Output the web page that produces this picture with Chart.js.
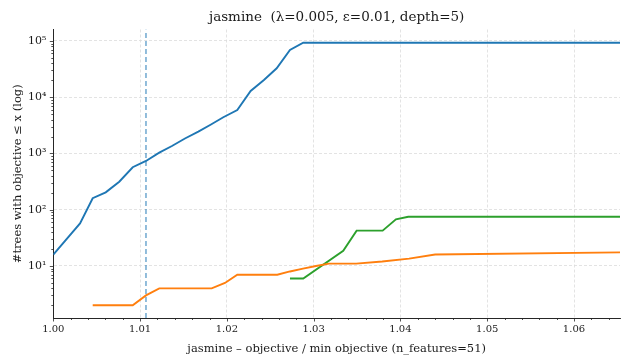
<!DOCTYPE html>
<html>
<head>
<meta charset="utf-8">
<script src="https://cdn.jsdelivr.net/npm/chart.js@4.4.1/dist/chart.umd.min.js"></script>
<style>
  html, body { margin: 0; padding: 0; background: #fff; }
  #wrap { width: 624px; height: 360px; }
</style>
</head>
<body>
<div id="wrap"><canvas id="c" width="624" height="360"></canvas></div>
<script>
// Objective ratio (objective / min objective) at each step of the curves
const blueX = [1.0000, 1.00308, 1.00454, 1.00604, 1.00760, 1.00915, 1.01068, 1.01221, 1.01367, 1.01517,
               1.01671, 1.01817, 1.01959, 1.02120, 1.02274, 1.02427, 1.02574, 1.02727, 1.02880, 1.0660];
const blueY = [16, 57, 160, 204, 315, 569, 736, 1033, 1359, 1848,
               2444, 3281, 4406, 5930, 12900, 20300, 32700, 69200, 93300, 93300];

const orangeX = [1.00454, 1.00915, 1.01068, 1.01221, 1.01825, 1.01978, 1.02120, 1.02581, 1.02727, 1.02877,
                 1.03027, 1.03176, 1.03490, 1.03790, 1.04100, 1.04400, 1.0660];
const orangeY = [2, 2, 3, 4, 4, 5, 7, 7, 8, 9, 10, 11, 11, 12, 13.5, 16, 17.5];

const greenX = [1.02727, 1.02880, 1.03341, 1.03495, 1.03795, 1.03948, 1.04090, 1.0660];
const greenY = [6, 6, 18.7, 42.5, 42.5, 67.6, 75.2, 75.2];

// Reference objective threshold
const thresholdX = 1.01068;

// Axis ranges and tick labels
const xMin = 1.0, xMax = 1.0653;
const yMin = 1.19, yMax = 1.6e5;
const xTickLabels = ['1.00', '1.01', '1.02', '1.03', '1.04', '1.05', '1.06'];
const yTickLabels = ['10⁰', '10¹', '10²', '10³', '10⁴', '10⁵'];

const titleText = 'jasmine  (λ=0.005, ε=0.01, depth=5)';
const xLabelText = 'jasmine – objective / min objective (n_features=51)';
const yLabelText = '#trees with objective ≤ x (log)';

const FONT = "'DejaVu Serif', serif";
const pts = (xs, ys) => xs.map((x, i) => ({ x, y: ys[i] }));

// Tick marks (major and minor) and the text labels around the plot
const decorations = {
  id: 'decorations',
  afterDraw(chart) {
    const { ctx, chartArea: a, scales: { x, y } } = chart;
    ctx.save();
    ctx.strokeStyle = '#262626';
    ctx.lineWidth = 0.8;
    ctx.beginPath();
    for (let i = 0; i <= 32; i++) {
      const v = 1 + i * 0.002;
      if (v > xMax) break;
      const px = Math.round(x.getPixelForValue(v)) + 0.5;
      const len = i % 5 === 0 ? 3.5 : 2;
      ctx.moveTo(px, a.bottom);
      ctx.lineTo(px, a.bottom + len);
    }
    for (let n = 0; n <= 5; n++) {
      for (let m = 1; m <= 9; m++) {
        const v = m * Math.pow(10, n);
        if (v < yMin || v > yMax) continue;
        const py = Math.round(y.getPixelForValue(v)) + 0.5;
        const len = m === 1 ? 3.5 : 2;
        ctx.moveTo(a.left, py);
        ctx.lineTo(a.left - len, py);
      }
    }
    ctx.stroke();

    ctx.fillStyle = '#1a1a1a';
    ctx.textAlign = 'center';
    ctx.textBaseline = 'middle';
    ctx.font = `13.5px ${FONT}`;
    ctx.fillText(titleText, (a.left + a.right) / 2, 17);
    ctx.font = `11.5px ${FONT}`;
    ctx.fillText(xLabelText, (a.left + a.right) / 2, 349);
    ctx.translate(18, (a.top + a.bottom) / 2);
    ctx.rotate(-Math.PI / 2);
    ctx.fillText(yLabelText, 0, 0);
    ctx.restore();
  }
};

new Chart(document.getElementById('c'), {
  type: 'line',
  data: {
    datasets: [
      { data: pts(blueX, blueY), borderColor: '#1f77b4', borderWidth: 1.9, pointRadius: 0, tension: 0, clip: 0 },
      { data: pts(orangeX, orangeY), borderColor: '#ff7f0e', borderWidth: 1.9, pointRadius: 0, tension: 0, clip: 0 },
      { data: pts(greenX, greenY), borderColor: '#2ca02c', borderWidth: 1.9, pointRadius: 0, tension: 0, clip: 0 },
      { data: [{ x: thresholdX, y: yMin }, { x: thresholdX, y: yMax }], borderColor: 'rgba(31,119,180,0.75)',
        borderWidth: 1.3, borderDash: [5, 3], pointRadius: 0, clip: 0 }
    ]
  },
  options: {
    responsive: false,
    animation: false,
    devicePixelRatio: 1,
    layout: { padding: { top: 29.5, right: 4, left: 0, bottom: 0 } },
    plugins: { legend: { display: false }, tooltip: { enabled: false }, title: { display: false } },
    scales: {
      x: {
        type: 'linear',
        min: xMin,
        max: xMax,
        afterFit: s => { s.height = 42; },
        afterBuildTicks: s => { s.ticks = xTickLabels.map(t => ({ value: parseFloat(t) })); },
        ticks: {
          autoSkip: false,
          maxRotation: 0,
          padding: 5,
          color: '#1a1a1a',
          font: { family: FONT, size: 10 },
          callback: (v, i) => xTickLabels[i]
        },
        grid: { color: '#dcdcdc', lineWidth: 0.8, drawTicks: false },
        border: { display: true, color: '#262626', width: 1, dash: [3, 2] }
      },
      y: {
        type: 'logarithmic',
        min: yMin,
        max: yMax,
        afterFit: s => { s.width = 53.3; },
        afterBuildTicks: s => {
          s.ticks = yTickLabels.map((t, n) => ({ value: Math.pow(10, n) })).filter(t => t.value >= yMin && t.value <= yMax);
        },
        ticks: {
          autoSkip: false,
          padding: 7,
          color: '#1a1a1a',
          font: { family: FONT, size: 11 },
          callback: v => yTickLabels[Math.round(Math.log10(v))]
        },
        grid: { color: '#dcdcdc', lineWidth: 0.8, drawTicks: false },
        border: { display: true, color: '#262626', width: 1, dash: [3, 2] }
      }
    }
  },
  plugins: [decorations]
});
</script>
</body>
</html>
